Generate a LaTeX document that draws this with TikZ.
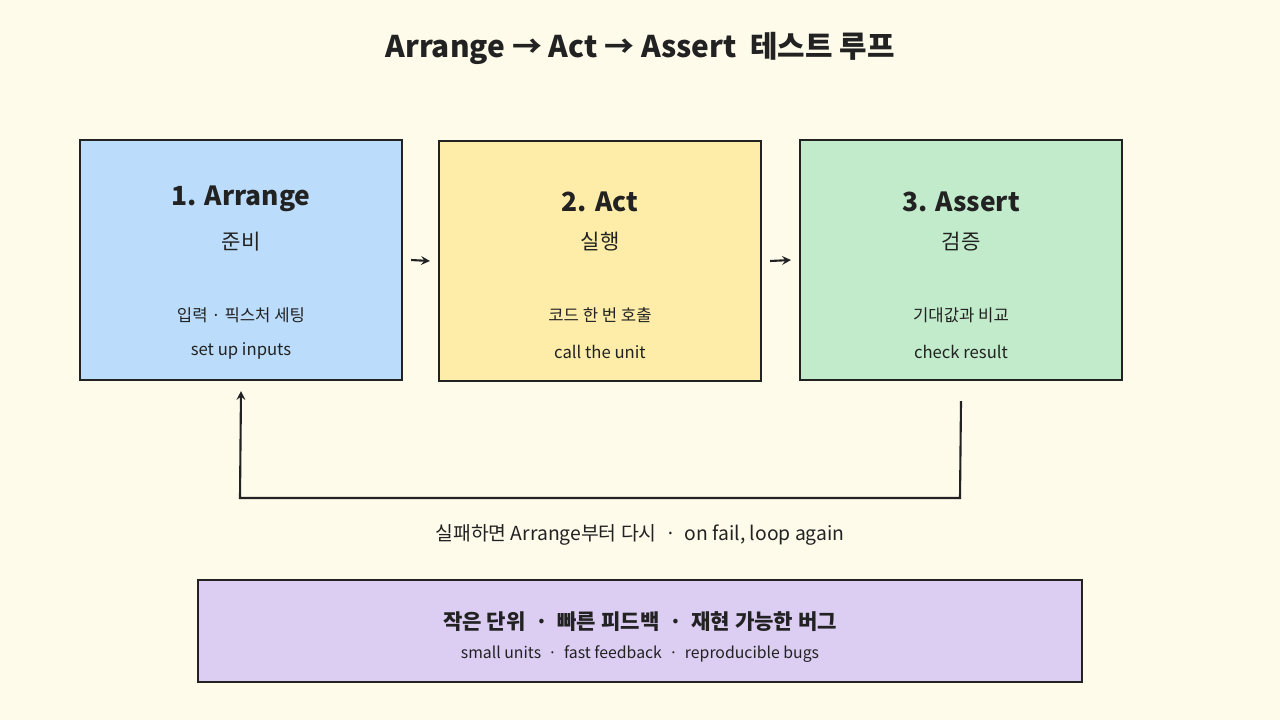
\documentclass[tikz,border=0pt]{standalone}
\usepackage{fontspec}
\setmainfont{Noto Sans CJK KR}
\usetikzlibrary{shapes.misc}
\definecolor{bg}{HTML}{FEFBEA}
\definecolor{stepblue}{HTML}{BBDDFB}
\definecolor{stepyellow}{HTML}{FDEDA8}
\definecolor{stepgreen}{HTML}{C1EBCB}
\definecolor{steppurple}{HTML}{DCCDF3}
\definecolor{ink}{HTML}{222222}
\begin{document}
\begin{tikzpicture}[
  x=0.02cm, y=-0.02cm,
  stage/.style={chamfered rectangle, chamfered rectangle xsep=9pt, chamfered rectangle ysep=9pt, draw=ink, line width=1.2pt, minimum width=322*0.02cm, minimum height=240*0.02cm, inner sep=0pt},
  label/.style={font=\fontsize{9.5}{11}\selectfont, text=ink},
  arrow/.style={->, >=stealth, line width=1.2pt, color=ink}
]
\fill[bg] (0,0) rectangle (1280,720);

% title
\node[font=\fontsize{17}{20}\selectfont\bfseries, text=ink] (title) at (640,48) {Arrange → Act → Assert\ \ 테스트 루프};

% three stages
\node[stage, fill=stepblue] (arrange) at (241,260) {};
\node[stage, fill=stepyellow] (act) at (600,261) {};
\node[stage, fill=stepgreen] (assert) at (961,260) {};

\node[font=\fontsize{15}{18}\selectfont\bfseries, text=ink] (t1) at (241,199) {1. Arrange};
\node[font=\fontsize{12}{14}\selectfont, text=ink] (k1) at (241,242) {준비};
\node[label] (d1) at (241,315) {입력 · 픽스처 세팅};
\node[label] (e1) at (241,351) {set up inputs};

\node[font=\fontsize{15}{18}\selectfont\bfseries, text=ink] (t2) at (600,202) {2. Act};
\node[font=\fontsize{12}{14}\selectfont, text=ink] (k2) at (600,242) {실행};
\node[label] (d2) at (600,315) {코드 한 번 호출};
\node[label] (e2) at (600,352) {call the unit};

\node[font=\fontsize{15}{18}\selectfont\bfseries, text=ink] (t3) at (961,202) {3. Assert};
\node[font=\fontsize{12}{14}\selectfont, text=ink] (k3) at (961,242) {검증};
\node[label] (d3) at (961,315) {기대값과 비교};
\node[label] (e3) at (961,352) {check result};

% flow arrows
\draw[arrow] ([xshift=8*0.02cm]arrange.east) -- ([xshift=-8*0.02cm]act.west);
\draw[arrow] ([xshift=8*0.02cm]act.east) -- ([xshift=-8*0.02cm]assert.west);

% feedback loop
\coordinate (c1) at (960,498);
\coordinate (c2) at (240,498);
\draw[arrow] ([yshift=-20*0.02cm]assert.south) -- (c1) -- (c2) -- ([yshift=-10*0.02cm]arrange.south);
\node[label, font=\fontsize{11}{13}\selectfont] (loop) at (640,535) {실패하면 Arrange부터 다시\ \ ·\ \ on fail, loop again};

% summary
\node[stage, fill=steppurple, minimum width=884*0.02cm, minimum height=102*0.02cm] (sum) at (640,631) {};
\node[font=\fontsize{12}{14}\selectfont\bfseries, text=ink] (s1) at (640,622) {작은 단위\ \ ·\ \ 빠른 피드백\ \ ·\ \ 재현 가능한 버그};
\node[label, font=\fontsize{9}{11}\selectfont] (s2) at (640,654) {small units\ \ ·\ \ fast feedback\ \ ·\ \ reproducible bugs};
\end{tikzpicture}
\end{document}
